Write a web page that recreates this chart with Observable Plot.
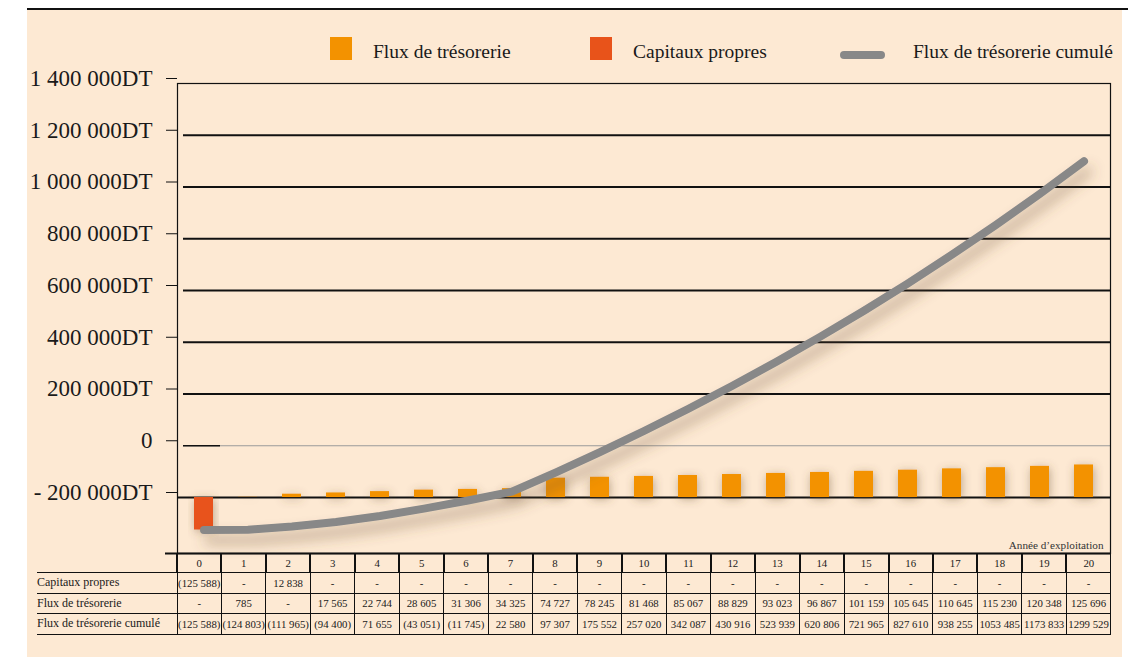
<!DOCTYPE html>
<html><head><meta charset="utf-8">
<script src="https://cdn.jsdelivr.net/npm/d3@7"></script>
<script src="https://cdn.jsdelivr.net/npm/@observablehq/plot@0.6"></script>
<style>
html,body{margin:0;padding:0;background:#fff;}
#root{position:relative;width:1128px;height:657px;overflow:hidden;font-family:"Liberation Serif",serif;color:#1a1a1a;}
#bg{position:absolute;left:27px;top:10px;width:1095px;height:647px;background:#fde9d3;}
#topline{position:absolute;left:27px;top:8px;width:1101px;height:2px;background:#111;}
#chart{position:absolute;left:0;top:0;}
.sw{position:absolute;top:37px;width:22px;height:23px;}
.lt{position:absolute;top:40px;font-size:19.5px;line-height:23px;white-space:nowrap;}
.ll{position:absolute;top:51px;width:45px;height:8px;border-radius:4px;background:#888888;}
#tbl{position:absolute;left:37px;top:553px;border-collapse:collapse;table-layout:fixed;font-family:"Liberation Serif",serif;color:#1a1a1a;}
#tbl td{padding:0;text-align:center;font-size:10.8px;white-space:nowrap;overflow:visible;}
#tbl td.lab{text-align:left;font-size:12px;}
#tbl tr.hd td{height:19px;border-bottom:1px solid #111;}
#tbl tr.hd td.yr{border-left:2px solid #111;}
#tbl tr.bd td{height:19.5px;border-bottom:1px solid #111;}
#tbl tr.bd td.yr{border-left:1px solid #111;}
#tbl td.last{border-right:1px solid #111;}
</style>
</head><body>
<div id="root">
  <div id="bg"></div>
  <div id="topline"></div>
  <div id="chart"></div>
  <div id="legend"></div>
  <table id="tbl"></table>
</div>
<script>
// ---- data ----
const years = d3.range(0, 21);
const capitauxPropres = [-125588, null, 12838, null, null, null, null, null, null, null, null, null, null, null, null, null, null, null, null, null, null];
const fluxTresorerie = [null, 785, null, 17565, 22744, 28605, 31306, 34325, 74727, 78245, 81468, 85067, 88829, 93023, 96867, 101159, 105645, 110645, 115230, 120348, 125696];
const fluxCumule = [-125588, -124803, -111965, -94400, -71655, -43051, -11745, 22580, 97307, 175552, 257020, 342087, 430916, 523939, 620806, 721965, 827610, 938255, 1053485, 1173833, 1299529];

// table texts as printed
const rowCapitauxText = ["(125 588)", "-", "12 838", "-", "-", "-", "-", "-", "-", "-", "-", "-", "-", "-", "-", "-", "-", "-", "-", "-", "-"];
const rowFluxText = ["-", "785", "-", "17 565", "22 744", "28 605", "31 306", "34 325", "74 727", "78 245", "81 468", "85 067", "88 829", "93 023", "96 867", "101 159", "105 645", "110 645", "115 230", "120 348", "125 696"];
const rowCumulText = ["(125 588)", "(124 803)", "(111 965)", "(94 400)", "71 655", "(43 051)", "(11 745)", "22 580", "97 307", "175 552", "257 020", "342 087", "430 916", "523 939", "620 806", "721 965", "827 610", "938 255", "1053 485", "1173 833", "1299 529"];
const rowLabels = ["Capitaux propres", "Flux de trésorerie", "Flux de trésorerie cumulé"];

const yTicks = [1400000, 1200000, 1000000, 800000, 600000, 400000, 200000, 0, -200000];
const yTickLabels = ["1 400 000DT", "1 200 000DT", "1 000 000DT", "800 000DT", "600 000DT", "400 000DT", "200 000DT", "0", "- 200 000DT"];
const baseline = -200000; // the bars and line are drawn from this gridline
const yDomain = [-416425, 1400000];
const legendLabels = ["Flux de trésorerie", "Capitaux propres", "Flux de trésorerie cumulé"];
const axisTitle = "Année d’exploitation";

const orange = "#f39200", red = "#e8531a", grey = "#888888";

// ---- derived tables ----
const bars = years.map((yr, i) => ({year: yr, value: (capitauxPropres[i] || 0) + (fluxTresorerie[i] || 0)}));
const cumul = years.map((yr, i) => ({year: yr, value: fluxCumule[i]}));
const gridValues = yTicks.filter(v => v !== 0 && v !== baseline && v !== yTicks[0]);

const chart = Plot.plot({
  width: 1128, height: 553,
  marginLeft: 177, marginRight: 18, marginTop: 83, marginBottom: 0,
  style: {background: "transparent", fontFamily: "Liberation Serif", color: "#1a1a1a", overflow: "visible"},
  x: {type: "band", domain: years, paddingInner: 0.568, paddingOuter: 0.374, axis: null},
  y: {domain: yDomain, axis: null},
  marks: [
    Plot.ruleY(gridValues, {stroke: "#111", strokeWidth: 1.8, insetLeft: 6}),
    Plot.ruleY([0], {stroke: "#9a9a9a", strokeWidth: 1, insetLeft: 6}),
    Plot.ruleY([0], {stroke: "#111", strokeWidth: 1.6, insetLeft: 6, insetRight: 890}),
    Plot.ruleY([baseline], {stroke: "#111", strokeWidth: 1.8}),
    Plot.barY(bars.filter(d => d.value >= 0), {x: "year", y1: baseline, y2: d => baseline + d.value, fill: orange}),
    Plot.barY(bars.filter(d => d.value < 0), {x: "year", y1: baseline, y2: d => baseline + d.value, fill: red}),
    Plot.line(cumul, {x: "year", y: d => baseline + d.value, stroke: grey, strokeWidth: 8, strokeLinecap: "round", strokeLinejoin: "round"}),
    Plot.frame({stroke: "#111", strokeWidth: 1.2}),
    Plot.ruleY([yDomain[0]], {stroke: "#111", strokeWidth: 2, insetLeft: -12}),
    Plot.axisY({ticks: yTicks, tickFormat: v => yTickLabels[yTicks.indexOf(v)], tickSize: 11, tickPadding: 14, fontSize: 23, dy: -5, label: null, stroke: "#111"}),
    Plot.text([axisTitle], {text: d => d, frameAnchor: "bottom-right", dx: -7, dy: -5, fontSize: 11.2, fill: "#333"})
  ]
});

// shadows
const svg = d3.select(chart);
const defs = svg.insert("defs", ":first-child");
function shadow(id, dx, dy, blur, op) {
  const f = defs.append("filter").attr("id", id).attr("x", "-30%").attr("y", "-60%").attr("width", "160%").attr("height", "220%");
  f.append("feDropShadow").attr("dx", dx).attr("dy", dy).attr("stdDeviation", blur).attr("flood-color", "#6e5232").attr("flood-opacity", op);
}
shadow("lineShadow", 4, 10, 7, 0.45);
shadow("barShadow", 1, 2, 5, 0.45);
svg.selectAll('g[aria-label="line"]').attr("filter", "url(#lineShadow)");
svg.selectAll('g[aria-label="bar"]').attr("filter", "url(#barShadow)");

document.getElementById("chart").appendChild(chart);

// legend
const legend = document.getElementById("legend");
legend.innerHTML =
  `<div class="sw" style="left:330px;background:${orange}"></div><div class="lt" style="left:373px">${legendLabels[0]}</div>` +
  `<div class="sw" style="left:590px;background:${red}"></div><div class="lt" style="left:633px">${legendLabels[1]}</div>` +
  `<div class="ll" style="left:840px"></div><div class="lt" style="left:913px">${legendLabels[2]}</div>`;

// table
const tbl = d3.select("#tbl");
const cg = tbl.append("colgroup");
cg.append("col").style("width", "140px");
years.forEach(() => cg.append("col").style("width", "44.48px"));
tbl.style("width", (140 + 44.48 * 21) + "px");
const hd = tbl.append("tr").attr("class", "hd");
hd.append("td").attr("class", "lab");
years.forEach((y, i) => hd.append("td").attr("class", "yr" + (i === 20 ? " last" : "")).text(y));
[rowCapitauxText, rowFluxText, rowCumulText].forEach((row, r) => {
  const tr = tbl.append("tr").attr("class", "bd");
  tr.append("td").attr("class", "lab").text(rowLabels[r]);
  row.forEach((t, i) => tr.append("td").attr("class", "yr" + (i === 20 ? " last" : "")).text(t));
});
</script>
</body></html>
